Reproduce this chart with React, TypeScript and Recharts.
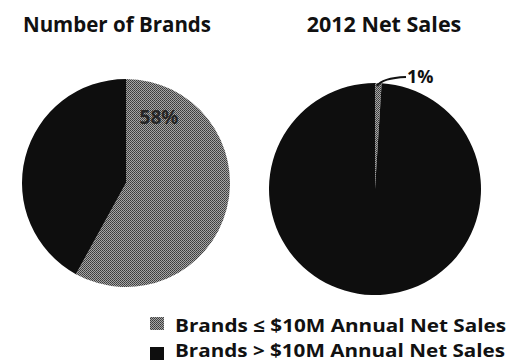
import React from "react";
import { PieChart, Pie, Cell } from "recharts";

const segments = ["Brands \u2264 $10M Annual Net Sales", "Brands > $10M Annual Net Sales"];
const brandCounts = [58, 42];
const netSales2012 = [1, 99];
const chartTitles = ["Number of Brands", "2012 Net Sales"];

const brandsData = segments.map((name, i) => ({ name, value: brandCounts[i] }));
const salesData = segments.map((name, i) => ({ name, value: netSales2012[i] }));

const FONT = "'Open Sans', Lato, sans-serif";
const GRAY = "url(#dots)";
const BLACK = "#0e0e0e";
const fills = [GRAY, BLACK];

const leftLabel = (p: any) => {
  if (p.index !== 0) return null;
  return (
    <text x={p.cx + 33} y={p.cy - 59} textAnchor="middle" fontFamily={FONT} fontWeight={700} fontSize={19} fill="#262626">
      {`${p.value}%`}
    </text>
  );
};

const rightLabel = (p: any) => {
  if (p.index !== 0) return null;
  const x0 = p.cx + 2;
  const y0 = p.cy - p.outerRadius + 3;
  return (
    <g>
      <path d={`M${x0},${y0} Q${x0 + 5},${y0 - 8} ${x0 + 29},${y0 - 9}`} stroke="#111" strokeWidth={2} fill="none" />
      <text x={x0 + 30} y={y0 - 3} fontFamily={FONT} fontWeight={700} fontSize={18} fill="#111">
        {`${p.value}%`}
      </text>
    </g>
  );
};

export default function App() {
  return (
    <div style={{ position: "absolute", left: 0, top: 0, width: 509, height: 364, background: "#fff" }}>
      <svg width={0} height={0} style={{ position: "absolute" }}>
        <defs>
          <pattern id="dots" width={2} height={2} patternUnits="userSpaceOnUse">
            <rect width={2} height={2} fill="#a6a6a6" />
            <rect width={1} height={1} fill="#3a3a3a" />
            <rect x={1} y={1} width={1} height={1} fill="#4a4a4a" />
          </pattern>
        </defs>
      </svg>
      <div style={{ position: "absolute", left: 0, top: 0 }}>
        <PieChart width={250} height={300}>
          <text x={117} y={32} textAnchor="middle" fontFamily={FONT} fontWeight={700} fontSize={20.5} fill="#111">
            {chartTitles[0]}
          </text>
          <Pie
            data={brandsData}
            dataKey="value"
            cx={121}
            cy={178}
            outerRadius={104}
            startAngle={90}
            endAngle={-270}
            stroke="none"
            isAnimationActive={false}
            label={leftLabel}
            labelLine={false}
          >
            {brandsData.map((d, i) => (
              <Cell key={d.name} fill={fills[i]} />
            ))}
          </Pie>
        </PieChart>
      </div>
      <div style={{ position: "absolute", left: 250, top: 0 }}>
        <PieChart width={259} height={300}>
          <text x={134} y={32} textAnchor="middle" fontFamily={FONT} fontWeight={700} fontSize={21.5} fill="#111">
            {chartTitles[1]}
          </text>
          <Pie
            data={salesData}
            dataKey="value"
            cx={120}
            cy={184}
            outerRadius={106}
            startAngle={90}
            endAngle={-270}
            stroke="none"
            isAnimationActive={false}
            label={rightLabel}
            labelLine={false}
          >
            {salesData.map((d, i) => (
              <Cell key={d.name} fill={fills[i]} />
            ))}
          </Pie>
        </PieChart>
      </div>
      <svg width={509} height={64} style={{ position: "absolute", left: 0, top: 300 }}>
        {segments.map((s, i) => (
          <g key={s}>
            <rect x={150} y={17 + i * 30} width={14} height={13} fill={i === 0 ? "url(#dots)" : BLACK} />
            <text
              x={175}
              y={32 + i * 25}
              fontFamily={FONT}
              fontWeight={700}
              fontSize={18}
              fill="#111"
              textLength={i === 0 ? 331 : 330}
              lengthAdjust="spacingAndGlyphs"
            >
              {s}
            </text>
          </g>
        ))}
      </svg>
    </div>
  );
}
